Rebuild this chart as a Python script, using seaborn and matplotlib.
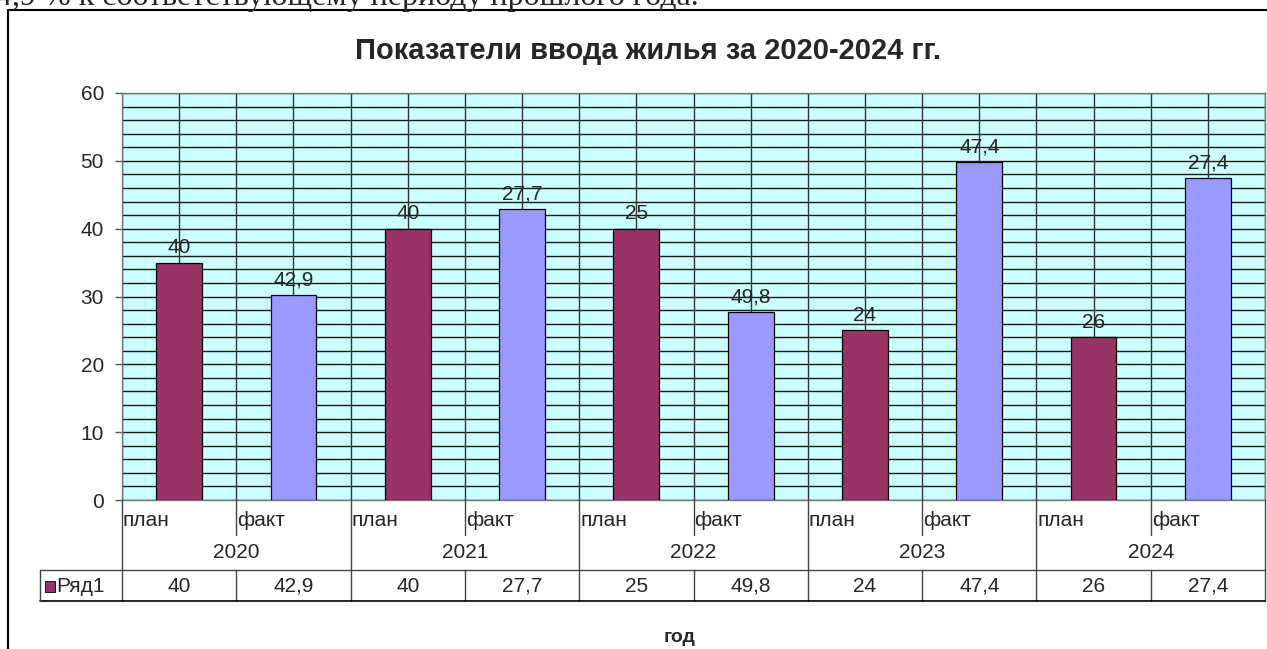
import matplotlib
matplotlib.use("Agg")
import matplotlib.pyplot as plt
import numpy as np
import pandas as pd
import seaborn as sns
from matplotlib.lines import Line2D
from matplotlib.patches import Rectangle

years = ["2020", "2021", "2022", "2023", "2024"]
kinds = ["план", "факт"]
# высоты столбцов (как нарисованы на диаграмме)
bar_heights = [35, 30.2, 40, 42.9, 40, 27.7, 25, 49.8, 24, 47.4]
# подписи данных и значения в таблице (Ряд1)
label_values = [40, 42.9, 40, 27.7, 25, 49.8, 24, 47.4, 26, 27.4]
series_name = "Ряд1"
title = "Показатели ввода жилья за 2020-2024 гг."
x_title = "год"
top_text = "4,9 % к соответствующему периоду прошлого года."

PLAN_COLOR = "#993366"
FACT_COLOR = "#9999FF"
BG_COLOR = "#CCFFFF"

W, H = 1267, 649
FS = 15  # основной размер шрифта


def fx(px):
    return px / W


def fy(py):
    return 1 - py / H


def ru(v):
    return f"{v:g}".replace(".", ",")


sns.set_style("white")
plt.rcParams["font.family"] = ["Liberation Sans", "DejaVu Sans"]

fig = plt.figure(figsize=(W / 100, H / 100), dpi=100)

# пиксельные границы области построения
L, R, T, B = 122, 1265, 93, 500
ax = fig.add_axes([fx(L), fy(B), fx(R) - fx(L), fy(T) - fy(B)])
ax.set_facecolor(BG_COLOR)

cats = [f"{y} {k}" for y in years for k in kinds]
df = pd.DataFrame({
    "cat": cats,
    "height": bar_heights,
    "kind": [k for _ in years for k in kinds],
})
sns.barplot(data=df, x="cat", y="height", hue="kind", order=cats,
            palette={"план": PLAN_COLOR, "факт": FACT_COLOR}, saturation=1,
            dodge=False, width=0.4, edgecolor="black", linewidth=0.9,
            legend=False, ax=ax, zorder=3)

ax.set_xlim(-0.5, len(cats) - 0.5)
ax.set_ylim(0, 60)
ax.set_yticks(np.arange(0, 61, 10))
ax.set_yticks(np.arange(0, 61, 2), minor=True)
ax.tick_params(axis="y", which="major", length=5, width=1, color="#555555",
               labelsize=FS, pad=8, left=True)
ax.tick_params(axis="y", which="minor", length=0)
ax.set_xticks([])
ax.set_xlabel("")
ax.set_ylabel("")
ax.grid(True, axis="y", which="both", color="#1a1a1a", linewidth=1.0, zorder=1)
for xv in np.arange(-0.5, len(cats), 0.5):
    ax.axvline(xv, color="#333333", linewidth=1.0, zorder=1)
ax.set_axisbelow(True)
for s in ax.spines.values():
    s.set_color("#777777")
    s.set_linewidth(1.0)

# подписи данных
for i, (h, v) in enumerate(zip(bar_heights, label_values)):
    ax.annotate(ru(v), (i, h), xytext=(0, 4), textcoords="offset points",
                ha="center", va="bottom", fontsize=FS, zorder=5)

# заголовок
fig.text(fx(648), fy(51), title, ha="center", va="center",
         fontsize=21, fontweight="bold")

# подписи категорий и таблица данных
cw = (R - L) / len(cats)
line_kw = dict(color="#444444", linewidth=1.0)
for i in range(len(cats) + 1):
    xb = L + i * cw
    if i % 2 == 0:
        fig.add_artist(Line2D([fx(xb)] * 2, [fy(B), fy(601)], **line_kw))
    else:
        fig.add_artist(Line2D([fx(xb)] * 2, [fy(B), fy(535)], **line_kw))
        fig.add_artist(Line2D([fx(xb)] * 2, [fy(570), fy(601)], **line_kw))

for i, c in enumerate(cats):
    xb = L + i * cw
    fig.text(fx(xb + 1), fy(520), c.split()[1], ha="left", va="center",
             fontsize=FS)
    fig.text(fx(xb + cw / 2), fy(586), ru(label_values[i]), ha="center",
             va="center", fontsize=FS)

for j, y in enumerate(years):
    xc = L + (2 * j + 1) * cw
    fig.text(fx(xc), fy(552), y, ha="center", va="center", fontsize=FS)

fig.add_artist(Line2D([fx(40), fx(R)], [fy(570)] * 2, **line_kw))
fig.add_artist(Line2D([fx(40), fx(R)], [fy(601)] * 2, color="black",
                      linewidth=1.2))
fig.add_artist(Line2D([fx(40)] * 2, [fy(570), fy(601)], **line_kw))
fig.add_artist(Rectangle((fx(45), fy(592)), fx(10), fy(581) - fy(592),
                         facecolor=PLAN_COLOR, edgecolor="black",
                         linewidth=0.6, transform=fig.transFigure))
fig.text(fx(56), fy(586), series_name, ha="left", va="center", fontsize=FS)

fig.text(fx(680), fy(638), x_title, ha="center", va="center",
         fontsize=14, fontweight="bold")

# рамка диаграммы и обрезанная строка текста сверху
fig.add_artist(Line2D([fx(8), fx(W + 5)], [fy(10)] * 2, color="black",
                      linewidth=1.5))
fig.add_artist(Line2D([fx(8)] * 2, [fy(10), fy(H + 5)], color="black",
                      linewidth=1.5))
fig.text(fx(-4), fy(5), top_text, ha="left", va="baseline", fontsize=23,
         family=["Liberation Serif", "DejaVu Serif"])

fig.savefig("out.png", dpi=100, facecolor="white")
